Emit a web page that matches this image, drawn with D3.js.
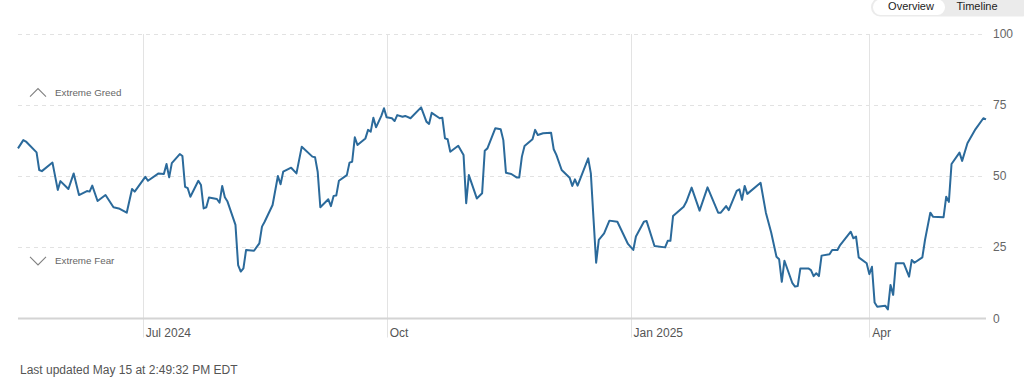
<!DOCTYPE html>
<html>
<head>
<meta charset="utf-8">
<script src="https://cdn.jsdelivr.net/npm/d3@7.9.0/dist/d3.min.js"></script>
<style>
  body { margin: 0; background: #fff; font-family: "Liberation Sans", Arial, sans-serif; }
  svg { display: block; }
</style>
</head>
<body>
<svg id="chart" width="1024" height="381"></svg>
<script>
// Fear & Greed index, one point per trading day
const dates = [
  '2024-05-15','2024-05-17','2024-05-18','2024-05-22','2024-05-23','2024-05-24','2024-05-28','2024-05-30','2024-05-31',
  '2024-06-03','2024-06-05','2024-06-07','2024-06-10','2024-06-11','2024-06-12','2024-06-14','2024-06-17','2024-06-20',
  '2024-06-22','2024-06-25','2024-06-27','2024-06-28',
  '2024-07-02','2024-07-03','2024-07-07','2024-07-09','2024-07-10','2024-07-11','2024-07-12','2024-07-15','2024-07-16',
  '2024-07-17','2024-07-18','2024-07-19','2024-07-22','2024-07-23','2024-07-24','2024-07-25','2024-07-26','2024-07-29',
  '2024-07-30','2024-07-31',
  '2024-08-01','2024-08-02','2024-08-05','2024-08-06','2024-08-07','2024-08-08','2024-08-09','2024-08-12','2024-08-14',
  '2024-08-15','2024-08-16','2024-08-19','2024-08-21','2024-08-22','2024-08-23','2024-08-26','2024-08-28','2024-08-30',
  '2024-09-03','2024-09-04','2024-09-05','2024-09-06','2024-09-09','2024-09-10','2024-09-11','2024-09-12','2024-09-13',
  '2024-09-16','2024-09-17','2024-09-18','2024-09-19','2024-09-20','2024-09-23','2024-09-24','2024-09-25','2024-09-26',
  '2024-09-27','2024-09-29','2024-09-30',
  '2024-10-01','2024-10-03','2024-10-04','2024-10-05','2024-10-07','2024-10-08','2024-10-10','2024-10-14','2024-10-16',
  '2024-10-17','2024-10-18','2024-10-21','2024-10-22','2024-10-23','2024-10-24','2024-10-25','2024-10-28','2024-10-30',
  '2024-10-31',
  '2024-11-01','2024-11-04','2024-11-06','2024-11-07','2024-11-08','2024-11-11','2024-11-13','2024-11-14','2024-11-15',
  '2024-11-17','2024-11-19','2024-11-20','2024-11-21','2024-11-22','2024-11-25','2024-11-26','2024-11-27','2024-11-29',
  '2024-12-02','2024-12-03','2024-12-04','2024-12-06','2024-12-09','2024-12-10','2024-12-11','2024-12-12','2024-12-16',
  '2024-12-17','2024-12-18','2024-12-19','2024-12-20','2024-12-22','2024-12-24','2024-12-27','2024-12-31',
  '2025-01-02','2025-01-03','2025-01-06','2025-01-07','2025-01-10','2025-01-14','2025-01-15','2025-01-16','2025-01-17',
  '2025-01-21','2025-01-22','2025-01-24','2025-01-27','2025-01-30',
  '2025-02-03','2025-02-04','2025-02-06','2025-02-07','2025-02-10','2025-02-11','2025-02-12','2025-02-13','2025-02-14',
  '2025-02-19','2025-02-21','2025-02-23','2025-02-25','2025-02-26','2025-02-27','2025-02-28',
  '2025-03-03','2025-03-04','2025-03-05','2025-03-06','2025-03-09','2025-03-10','2025-03-11','2025-03-12','2025-03-13',
  '2025-03-14','2025-03-17','2025-03-18','2025-03-20','2025-03-21','2025-03-25','2025-03-26','2025-03-27','2025-03-28',
  '2025-03-31',
  '2025-04-01','2025-04-02','2025-04-03','2025-04-04','2025-04-07','2025-04-08','2025-04-09','2025-04-10','2025-04-11',
  '2025-04-14','2025-04-16','2025-04-17','2025-04-18','2025-04-21','2025-04-22','2025-04-24','2025-04-25','2025-04-29',
  '2025-04-30',
  '2025-05-01','2025-05-02','2025-05-05','2025-05-06','2025-05-08','2025-05-11','2025-05-14','2025-05-15'
];

const values = [
  59.8, 62.7, 62.2, 58.4, 52.2, 51.8, 54.8, 45.2, 48.3,
  45.5, 51, 43.4, 44.8, 44.6, 46.7, 41.3, 43.4, 39.1,
  38.7, 37.2, 45.5, 44.6,
  49.8, 48.4, 51, 50.8, 54.3, 49.6, 54.6, 57.8, 57.1,
  46.3, 45.8, 42.8, 48.4, 46.9, 38.7, 39.1, 42.5, 42,
  40.7, 46.6,
  42.6, 41.1, 32.9, 18.8, 16.5, 17.6, 24.1, 23.8, 26.4,
  32.3, 34, 39.9, 50.1, 47.2, 51.6, 53, 51, 60.4,
  56.9, 56.7, 51.6, 39.1, 41.9, 39.5, 43.1, 43.2, 48.4,
  50.4, 54.8, 55.1, 63.7, 61, 63.3, 66.3, 65.7, 70.6,
  67.2, 71.2, 73.9,
  70.7, 70.4, 69.4, 71.5, 70.9, 71.2, 70.4, 74.2, 69.2,
  68.4, 72.3, 70.4, 70.6, 63.3, 63, 58.6, 60.7, 57.5,
  40.5,
  50.4, 42.2, 44, 59, 59.8, 66.9, 66.5, 62.7, 51.2,
  50.8, 49.6, 49.6, 56.9, 60.6, 63, 66.3, 64.5, 65.1,
  65.3, 59.5, 57.5, 52.2, 49.5, 46.6, 48.9, 46.7, 56.3,
  51, 35.2, 19.6, 27.6, 29.9, 34.4, 34, 26.2,
  24.1, 28.8, 34, 34.3, 25.5, 25, 27.3, 27.3, 36,
  39.3, 41, 46, 37.9, 46.1,
  37.2, 37.2, 39.5, 38.1, 44.9, 45.4, 41.7, 46.6, 43.8,
  47.7, 37.2, 30.2, 21.7, 20.8, 12.9, 20.3,
  12.4, 11.2, 11.4, 17.6, 17.6, 17, 14.9, 15.9, 14.9,
  22.1, 22.6, 24.1, 24.1, 25.8, 30.5, 28.2, 28.8, 21.5,
  19.4,
  15.6, 18.2, 5.6, 4.1, 4.5, 3.2, 11.8, 8.3, 19.4,
  19.4, 14.7, 20.6, 19.6, 21.5, 27.6, 37.2, 35.8, 35.6,
  42.8,
  41, 54.3, 58.3, 55.4, 61.6, 66.5, 70.4, 70
];

const yTicks = [0, 25, 50, 75, 100];
const xTicks = ['2024-07-01', '2024-10-01', '2025-01-01', '2025-04-01'];
const xTickLabels = ['Jul 2024', 'Oct', 'Jan 2025', 'Apr'];
const zones = [
  { label: 'Extreme Greed', value: 75, dir: 'up' },
  { label: 'Extreme Fear', value: 25, dir: 'down' }
];
const toggleLabels = ['Overview', 'Timeline'];
const updatedText = 'Last updated May 15 at 2:49:32 PM EDT';

const parse = d3.timeParse('%Y-%m-%d');
const data = dates.map((d, i) => ({ date: parse(d), value: values[i] }));

const svg = d3.select('#chart');
const plotLeft = 18, plotRight = 986, plotTop = 34, plotBottom = 318.5;

const x = d3.scaleTime()
  .domain([parse('2024-05-15'), parse('2025-05-15')])
  .range([plotLeft, plotRight]);
const y = d3.scaleLinear().domain([0, 100]).range([plotBottom, plotTop]);

// vertical month lines
svg.append('g').selectAll('line')
  .data(xTicks)
  .join('line')
  .attr('x1', d => Math.round(x(parse(d))) + 0.5)
  .attr('x2', d => Math.round(x(parse(d))) + 0.5)
  .attr('y1', plotTop)
  .attr('y2', plotBottom + 19)
  .attr('stroke', '#e3e3e3')
  .attr('stroke-width', 1);

svg.append('g').selectAll('text')
  .data(xTicks)
  .join('text')
  .attr('x', d => x(parse(d)) + 3)
  .attr('y', plotBottom + 18)
  .attr('font-size', 12)
  .attr('fill', '#555')
  .text((d, i) => xTickLabels[i]);

// horizontal grid
svg.append('g').selectAll('line')
  .data(yTicks.filter(d => d > 0))
  .join('line')
  .attr('x1', plotLeft)
  .attr('x2', plotRight)
  .attr('y1', d => Math.round(y(d)) + 0.5)
  .attr('y2', d => Math.round(y(d)) + 0.5)
  .attr('stroke', '#e2e2e2')
  .attr('stroke-dasharray', '4,4');

svg.append('line')
  .attr('x1', plotLeft).attr('x2', plotRight)
  .attr('y1', y(0)).attr('y2', y(0))
  .attr('stroke', '#d4d4d4')
  .attr('stroke-width', 2);

svg.append('g').selectAll('text')
  .data(yTicks)
  .join('text')
  .attr('x', plotRight + 7)
  .attr('y', d => y(d) + 4)
  .attr('font-size', 12)
  .attr('fill', '#666')
  .text(d => d);

// zone labels
const zone = svg.append('g').selectAll('g')
  .data(zones)
  .join('g')
  .attr('transform', d => `translate(30,${y(d.value) + (d.dir === 'up' ? -13 : 13)})`);

zone.append('path')
  .attr('d', d => d.dir === 'up' ? 'M0,4.5 L8,-3.5 L16,4.5' : 'M0,-3.5 L8,4.5 L16,-3.5')
  .attr('fill', 'none')
  .attr('stroke', '#808080')
  .attr('stroke-width', 1.1);

zone.append('text')
  .attr('x', 25)
  .attr('y', 3.5)
  .attr('font-size', 9.8)
  .attr('fill', '#666')
  .text(d => d.label);

// line
svg.append('path')
  .datum(data)
  .attr('fill', 'none')
  .attr('stroke', '#2b6a9b')
  .attr('stroke-width', 2)
  .attr('stroke-linejoin', 'round')
  .attr('d', d3.line().x(d => x(d.date)).y(d => y(d.value)));

// footer
svg.append('text')
  .attr('x', 20)
  .attr('y', 374)
  .attr('font-size', 12)
  .attr('fill', '#555')
  .text(updatedText);

// toggle
const tg = svg.append('g');
tg.append('rect')
  .attr('x', 871).attr('y', -2).attr('width', 160).attr('height', 18.5)
  .attr('rx', 9).attr('fill', '#ebebeb');
tg.append('rect')
  .attr('x', 873).attr('y', -0.5).attr('width', 72).attr('height', 15.5)
  .attr('rx', 7.5).attr('fill', '#fff');
tg.selectAll('text')
  .data(toggleLabels)
  .join('text')
  .attr('x', (d, i) => i === 0 ? 911 : 977)
  .attr('y', 10)
  .attr('text-anchor', 'middle')
  .attr('font-size', 11)
  .attr('fill', '#222')
  .text(d => d);
</script>
</body>
</html>
